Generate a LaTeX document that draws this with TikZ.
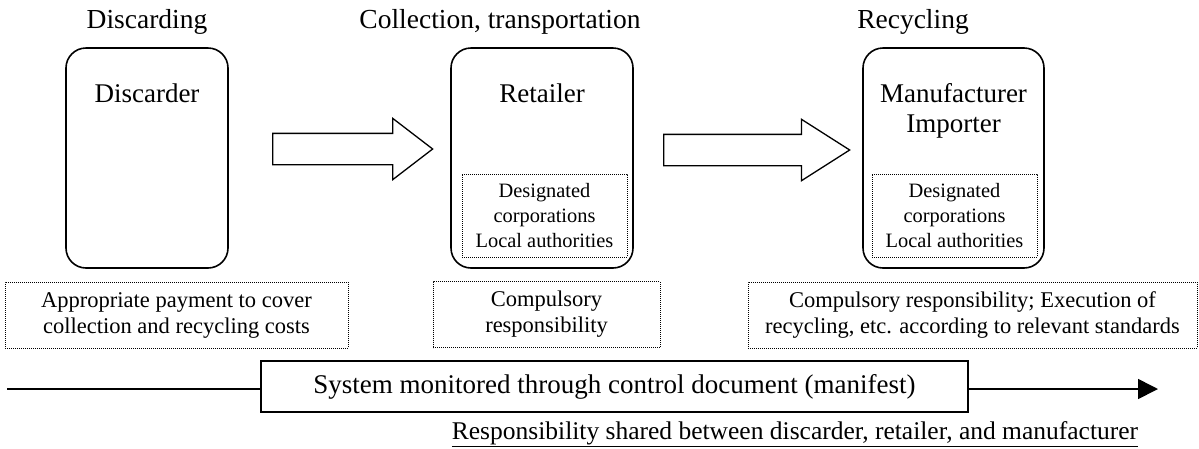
\documentclass[tikz,border=0pt]{standalone}
\usepackage{fontspec}
\setmainfont{Liberation Serif}
\usetikzlibrary{shapes.arrows,arrows.meta,positioning}

\begin{document}
\begin{tikzpicture}[
    x=1pt, y=-1pt,
    heading/.style={font=\fontsize{27.5}{30}\selectfont, anchor=base, inner sep=0pt},
    actor/.style={font=\fontsize{27}{30}\selectfont, anchor=base, inner sep=0pt, align=center},
    stagebox/.style={rectangle, draw=black, line width=1.6pt, rounded corners=20pt, minimum width=#1, minimum height=220pt, inner sep=0pt},
    dotbox/.style={rectangle, draw=black, line width=0.9pt, dash pattern=on 0.9pt off 1.1pt, inner sep=0pt, align=center},
    innerbox/.style={dotbox, minimum width=165pt, minimum height=83pt, font=\fontsize{20.4}{25}\selectfont},
    dutybox/.style={dotbox, minimum height=66pt, font=\fontsize{22.5}{26}\selectfont},
    bigarrow/.style={single arrow, draw=black, line width=1.3pt, fill=white, inner sep=0pt, inner ysep=15pt, minimum width=0pt, single arrow head extend=15pt, anchor=tail},
    plainbox/.style={rectangle, draw=black, line width=1.6pt, inner sep=0pt, font=\fontsize{27}{30}\selectfont},
    flowline/.style={line width=1.6pt}
]
\useasboundingbox (0,0) rectangle (1199,448);

% Stage headings
\node[heading] (h_discard) at (147,28) {Discarding};
\node[heading] (h_collect) at (500,28) {Collection, transportation};
\node[heading] (h_recycle) at (913,28) {Recycling};

% Stage boxes
\node[stagebox=162pt] (discarder) at (147,158) {};
\node[stagebox=182pt] (retailer) at (542,158) {};
\node[stagebox=181pt] (maker) at (953.5,158) {};

% Box titles (base = last line)
\node[actor] (t_discarder) at (147,102) {Discarder};
\node[actor] (t_retailer) at (542,102) {Retailer};
\node[actor] (t_maker) at (953.5,132) {Manufacturer\\Importer};

% Designated corporations inside the boxes
\node[innerbox] (sub_retailer) at (544.5,215.5) {Designated\\corporations\\Local authorities};
\node[innerbox] (sub_maker) at (954.5,215.5) {Designated\\corporations\\Local authorities};

% Flow arrows
\node[bigarrow, minimum height=160pt, single arrow tip angle=75] (arr1) at (272,149) {};
\node[bigarrow, minimum height=186pt, single arrow tip angle=65] (arr2) at (663,150) {};

% Responsibilities
\node[dutybox, minimum width=343pt] (pay) at (176.5,315) {Appropriate payment to cover\\collection and recycling costs};
\node[dutybox, minimum width=227pt] (duty) at (546.5,314.5) {Compulsory\\responsibility};
\node[dutybox, minimum width=449pt] (exec) at (972.5,315) {Compulsory responsibility; Execution of\\recycling, etc. according to relevant standards};

% Manifest line
\node[plainbox, minimum width=707pt, minimum height=51pt] (manifest) at (614.5,386.5) {System monitored through control document (manifest)};
\coordinate (lstart) at (7,389);
\coordinate (lend) at (1158,389);
\draw[flowline] (lstart) -- (lstart -| manifest.west);
\draw[flowline, -{Triangle[length=20pt,width=20pt]}] (manifest.east |- lend) -- (lend);

% Shared responsibility note
\node[font=\fontsize{25.5}{28}\selectfont, anchor=base, inner sep=0pt] (shared) at (795,439) {\underline{Responsibility shared between discarder, retailer, and manufacturer}};

\end{tikzpicture}
\end{document}
